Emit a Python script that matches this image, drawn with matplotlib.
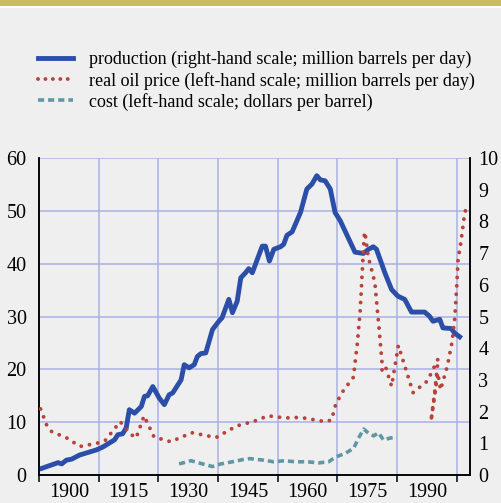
import matplotlib.pyplot as plt
from matplotlib.lines import Line2D
from matplotlib.patches import Rectangle

plt.rcParams['font.family'] = ['Liberation Serif', 'DejaVu Serif']

# production, million barrels per day (right-hand scale)
prod_year = [1900.7, 1904.8, 1905.7, 1906.9, 1908.2, 1910.2, 1914.4, 1916.0, 1919.0, 1919.8,
             1921.0, 1921.9, 1922.7, 1924.0, 1925.7, 1926.5, 1927.3, 1928.6, 1930.2, 1931.5,
             1932.7, 1933.6, 1935.7, 1936.5, 1937.7, 1939.0, 1939.8, 1940.7, 1941.9, 1943.6,
             1945.2, 1946.0, 1947.7, 1948.6, 1949.8, 1950.7, 1951.9, 1952.7, 1953.6, 1956.1,
             1956.9, 1957.9, 1959.0, 1960.7, 1961.5, 1962.3, 1963.6, 1965.7, 1967.3, 1968.6,
             1969.8, 1970.7, 1971.9, 1973.2, 1974.4, 1975.7, 1977.3, 1979.4, 1981.5, 1982.8,
             1984.0, 1984.8, 1986.9, 1988.6, 1990.2, 1991.9, 1993.6, 1996.9, 1998.1, 1999.0,
             2000.7, 2001.5, 2003.6, 2004.4, 2005.7]
prod_val = [0.21, 0.39, 0.35, 0.47, 0.50, 0.63, 0.79, 0.88, 1.11, 1.27,
            1.30, 1.48, 2.06, 1.95, 2.16, 2.48, 2.50, 2.79, 2.43, 2.22,
            2.53, 2.59, 3.00, 3.48, 3.38, 3.48, 3.74, 3.83, 3.85, 4.59,
            4.85, 4.96, 5.54, 5.12, 5.48, 6.22, 6.38, 6.51, 6.38, 7.22,
            7.22, 6.75, 7.12, 7.20, 7.28, 7.56, 7.67, 8.28, 9.02, 9.18,
            9.44, 9.31, 9.28, 9.02, 8.28, 8.02, 7.59, 7.03, 6.99, 7.12,
            7.20, 7.12, 6.38, 5.85, 5.64, 5.54, 5.14, 5.14, 5.01, 4.85,
            4.91, 4.64, 4.62, 4.48, 4.36]

# real oil price (left-hand scale)
price_year = [1900.4, 1901.9, 1903.2, 1907.0, 1910.3, 1914.5, 1916.6, 1920.4, 1921.6, 1922.9,
              1924.4, 1926.4, 1928.9, 1933.1, 1938.4, 1944.5, 1949.7, 1953.8, 1957.6, 1961.8,
              1965.7, 1971.9, 1973.5, 1974.6, 1976.5, 1979.0, 1980.0, 1980.7, 1981.7, 1981.9,
              1982.7, 1984.4, 1985.5, 1986.2, 1986.2, 1987.1, 1988.6, 1990.3, 1994.0, 1997.6,
              2000.3, 1999.5, 1998.5, 2000.2, 2000.9, 2002.6, 2003.8, 2004.5, 2005.0, 2005.3,
              2006.0, 2006.8, 2007.2]
price_val = [12.5, 9.5, 8.2, 7.0, 5.4, 6.0, 6.5, 10.1, 9.0, 7.8,
             7.0, 11.2, 7.2, 6.3, 8.0, 7.1, 9.3, 10.1, 11.2, 10.8,
             10.9, 10.1, 10.4, 13.5, 16.0, 18.5, 25.0, 31.0, 45.2, 46.0,
             41.4, 36.4, 27.3, 21.2, 19.6, 20.4, 16.8, 24.5, 15.6, 17.8,
             22.0, 16.1, 10.2, 19.3, 16.1, 20.6, 25.2, 29.9, 36.2, 40.8,
             44.0, 48.6, 50.2]

# cost, dollars per barrel (left-hand scale)
cost_year = [1935.2, 1938.2, 1941.1, 1943.6, 1945.7, 1948.6, 1951.1, 1953.0, 1956.5, 1959.0,
             1961.6, 1964.5, 1967.4, 1970.3, 1972.8, 1974.5, 1977.0, 1979.1, 1980.3, 1981.6,
             1982.8, 1984.1, 1985.3, 1986.6, 1988.2, 1989.9]
cost_val = [2.1, 2.7, 2.1, 1.6, 2.1, 2.5, 2.9, 3.1, 2.8, 2.5,
            2.7, 2.5, 2.5, 2.3, 2.5, 3.4, 4.1, 5.1, 7.0, 8.7,
            7.9, 7.4, 8.0, 6.6, 7.0, 7.1]

labels = ['production (right-hand scale; million barrels per day)',
          'real oil price (left-hand scale; million barrels per day)',
          'cost (left-hand scale; dollars per barrel)']
year_ticks = [1900, 1915, 1930, 1945, 1960, 1975, 1990, 2005]

bg = '#efefef'
blue = '#2b4fa9'
red = '#b9423a'
teal = '#5f97a5'
grid = '#aab1e4'

fig = plt.figure(figsize=(5.01, 5.03), dpi=100, facecolor=bg)
fig.patches.append(Rectangle((0, 1 - 6 / 503), 1, 6 / 503, transform=fig.transFigure,
                             facecolor='#cbbd5f', edgecolor='none'))
fig.patches.append(Rectangle((0, 1 - 8 / 503), 1, 2 / 503, transform=fig.transFigure,
                             facecolor='white', edgecolor='none'))

ax = fig.add_axes([39 / 501, 28 / 503, 431 / 501, 317 / 503])
ax.set_facecolor(bg)
ax.set_xlim(1900, 2008.3)
ax.set_ylim(0, 60)
for y in range(10, 61, 10):
    ax.axhline(y, color=grid, lw=1.1, zorder=0)
for x in year_ticks[1:]:
    ax.axvline(x, color=grid, lw=1.1, zorder=0)

ax.plot(cost_year, cost_val, color=teal, lw=2.6, dashes=(1.7, 1.1), zorder=2)

ax2 = ax.twinx()
ax2.set_ylim(0, 10)
ax2.plot(prod_year, prod_val, color=blue, lw=3.5, solid_joinstyle='round', zorder=2)
ax2.plot(price_year, price_val, transform=ax.transData, color=red, lw=2.8,
         dashes=(0.01, 2.15), dash_capstyle='round', zorder=3)

for a in (ax, ax2):
    a.spines['top'].set_visible(False)
    for s in ('left', 'right', 'bottom'):
        a.spines[s].set_linewidth(1.1)
        a.spines[s].set_color('black')

ax.set_yticks(range(0, 61, 10))
ax.tick_params(axis='y', length=0, pad=9, labelsize=14.5)
ax2.set_yticks(range(0, 11))
ax2.tick_params(axis='y', length=0, pad=6, labelsize=14.5)

ax.set_xticks(year_ticks)
ax.set_xticklabels([])
ax.set_xticks([y + 7.5 for y in year_ticks[:-1]], minor=True)
ax.set_xticklabels([str(y) for y in year_ticks[:-1]], minor=True)
ax.tick_params(axis='x', which='major', length=5, width=1.1, direction='out')
ax.tick_params(axis='x', which='minor', length=0, pad=6, labelsize=14.5)

handles = [Line2D([], [], color=blue, lw=3.5),
           Line2D([], [], color=red, lw=2.8, dashes=(0.01, 1.9), dash_capstyle='round'),
           Line2D([], [], color=teal, lw=2.6, dashes=(1.7, 1.1))]
fig.legend(handles, labels, loc='upper left', bbox_to_anchor=(38 / 501, 1 - 51 / 503),
           frameon=False, fontsize=13, handlelength=1.95, handletextpad=0.85,
           labelspacing=0.18, borderaxespad=0, borderpad=0)

fig.savefig('out.png', dpi=100, facecolor=bg)
